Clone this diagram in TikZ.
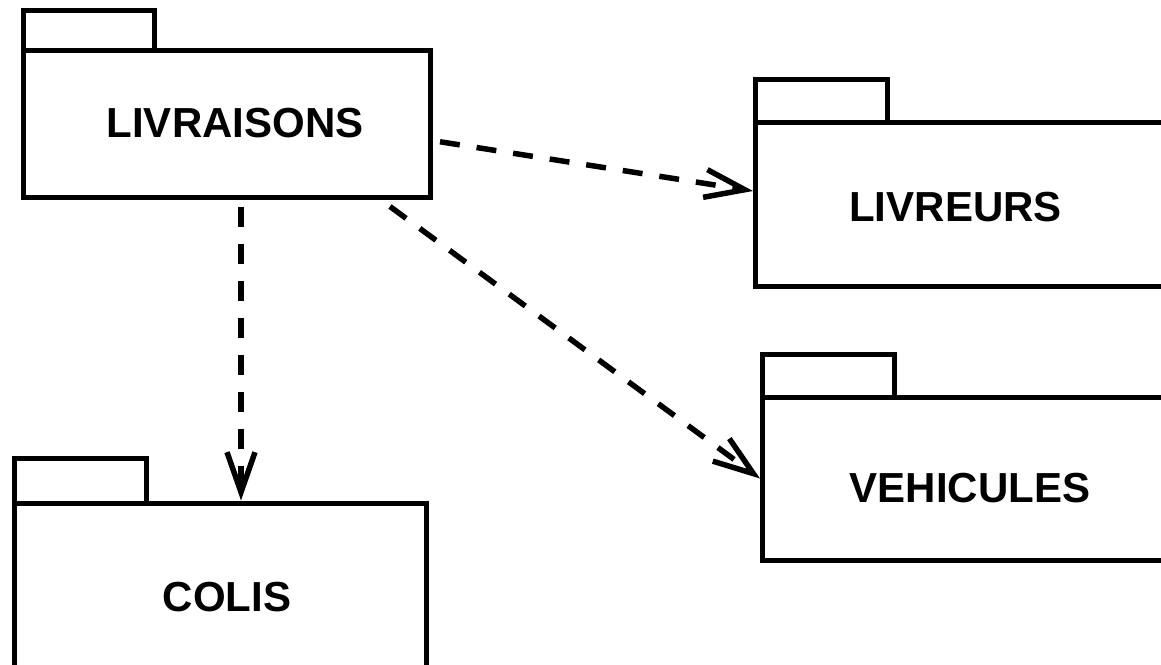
\documentclass[tikz,border=0pt]{standalone}
\usepackage{fontspec}
\setmainfont{Liberation Sans}
\usetikzlibrary{arrows.meta}
\begin{document}
\begin{tikzpicture}[x=1pt,y=-1pt,
  pkgbox/.style={draw=black, line width=5pt, fill=white, rectangle, inner sep=0pt, outer sep=0pt},
  pkgtab/.style={draw=black, line width=5pt, fill=white},
  pkglabel/.style={inner sep=0pt, anchor=base, font=\fontsize{42}{50}\selectfont\bfseries},
  dep/.style={line width=5.5pt, dash pattern=on 20pt off 17pt, -{Straight Barb[length=40pt,width=28pt]}}]
\useasboundingbox (0,0) rectangle (1161,664);
\clip (0,0) rectangle (1161,664);
\fill[white] (0,0) rectangle (1161,664);

% LIVRAISONS
\node[pkgbox, minimum width=407pt, minimum height=147.5pt] (liv) at (227,123.75) {};
\draw[pkgtab] (liv.north west) rectangle ++(131,-40);
\node[pkglabel] (livlbl) at (235,137.5) {LIVRAISONS};

% LIVREURS
\node[pkgbox, minimum width=600pt, minimum height=164pt] (livr) at (1055,204.5) {};
\draw[pkgtab] (livr.north west) rectangle ++(132,-43.5);
\node[pkglabel] (livrlbl) at (955.5,221.5) {LIVREURS};

% VEHICULES
\node[pkgbox, minimum width=600pt, minimum height=163pt] (veh) at (1062,478.5) {};
\draw[pkgtab] (veh.north west) rectangle ++(132,-43);
\node[pkglabel] (vehlbl) at (970,502.5) {VEHICULES};

% COLIS
\node[pkgbox, minimum width=412.5pt, minimum height=300pt] (col) at (220.25,653) {};
\draw[pkgtab] (col.north west) rectangle ++(132,-45);
\node[pkglabel] (collbl) at (227,611.5) {COLIS};

% dependencies
\draw[dep] ([shift={(9.5,18)}]liv.east) -- ([shift={(-2,-13.5)}]livr.west);
\draw[dep] ([shift={(163,9)}]liv.south) -- ([shift={(-2,0)}]veh.west);
\draw[dep] ([shift={(14,9)}]liv.south) -- ([shift={(20.75,-2.5)}]col.north);
\end{tikzpicture}
\end{document}
